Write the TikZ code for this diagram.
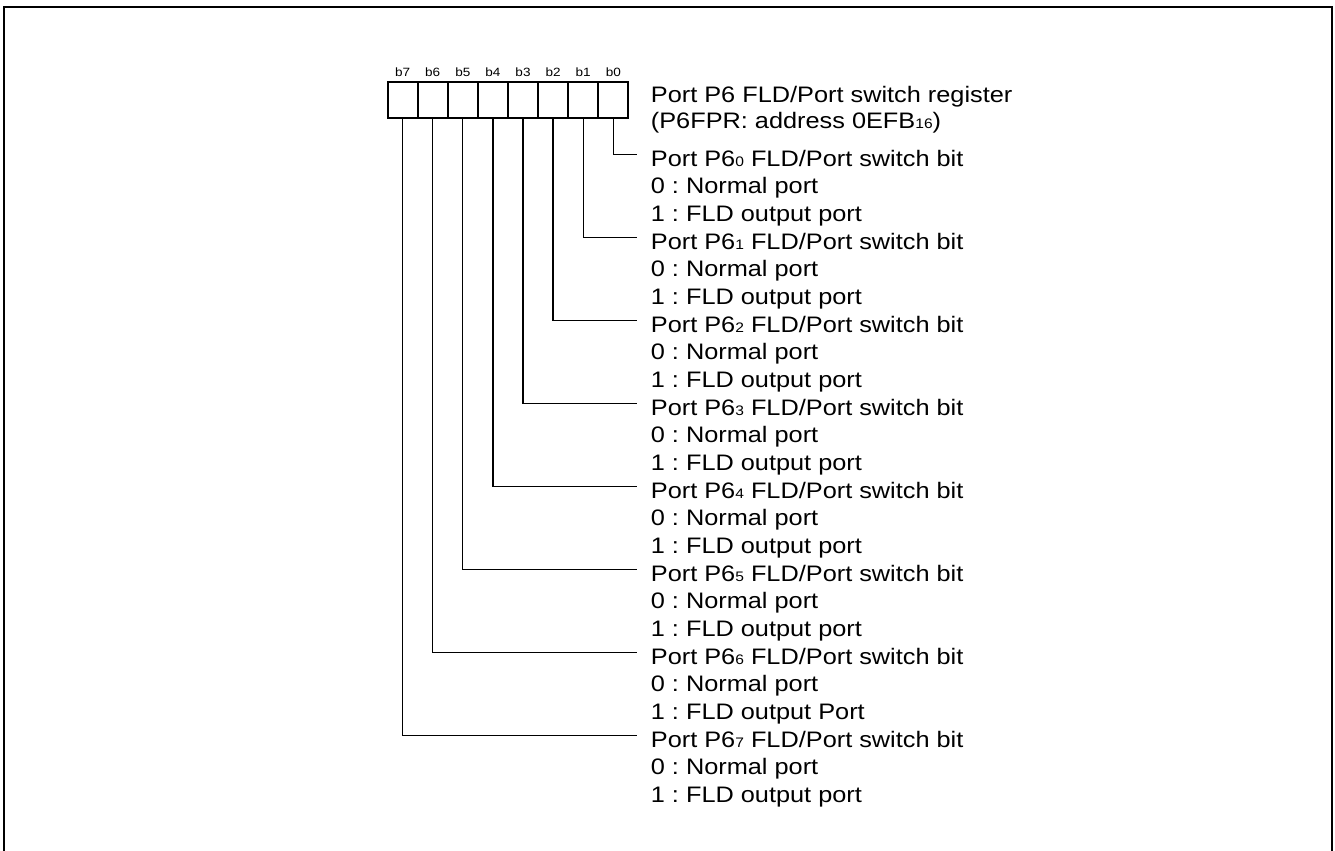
\documentclass[tikz,border=0pt]{standalone}
\usepackage{fontspec}
\setmainfont[FakeStretch=1.13]{Liberation Sans}
\usetikzlibrary{positioning}
\newcommand{\pidx}[1]{{\fontsize{6.9}{7}\selectfont #1}}
\frenchspacing

\begin{document}
\begin{tikzpicture}[x=0.5pt, y=-0.5pt,
  bitbox/.style={draw, line width=1pt, outer sep=0pt, minimum width=15.05pt, minimum height=18.15pt, inner sep=0pt},
  bitlbl/.style={anchor=base, inner sep=0pt, font=\fontsize{6}{6}\selectfont},
  txt/.style={anchor=base west, inner xsep=7pt, inner ysep=0pt, font=\fontsize{11.2}{12}\selectfont},
  bitname/.style={txt, text height=11.5pt, text depth=0pt},
  conn/.style={line width=0.65pt}]
  \useasboundingbox (0,0) rectangle (1335,851);
  \draw[line width=1.2pt] (4,851) -- (4,7) -- (1332,7) -- (1332,851);

  \node[bitbox] (b0) at (613.3,100.2) {};
  \foreach \i [count=\j from 0] in {1,...,7}
    \node[bitbox, left=0pt of b\j] (b\i) {};
  \foreach \i in {0,...,7}
    \node[bitlbl] (t\i) at ([yshift=2.65pt]b\i.north) {b\i};

  \node[txt] (reg) at (636.5,102) {Port P6 FLD/Port switch register};
  \node[txt] (addr) at (636.5,128.3) {(P6FPR: address 0EFB\pidx{16})};

  \foreach \i/\p in {0/port,1/port,2/port,3/port,4/port,5/port,6/Port,7/port} {
    \pgfmathsetmacro\ya{166+83*\i}
    \node[bitname] (n\i) at (636.5,\ya) {Port P6\pidx{\i} FLD/Port switch bit};
    \node[txt] (z\i) at (636.5,\ya+27.67) {0 : Normal port};
    \node[txt] (o\i) at (636.5,\ya+55.33) {1 : FLD output \p};
    \draw[conn] (b\i.south) |- (n\i.west);
  }
\end{tikzpicture}
\end{document}
